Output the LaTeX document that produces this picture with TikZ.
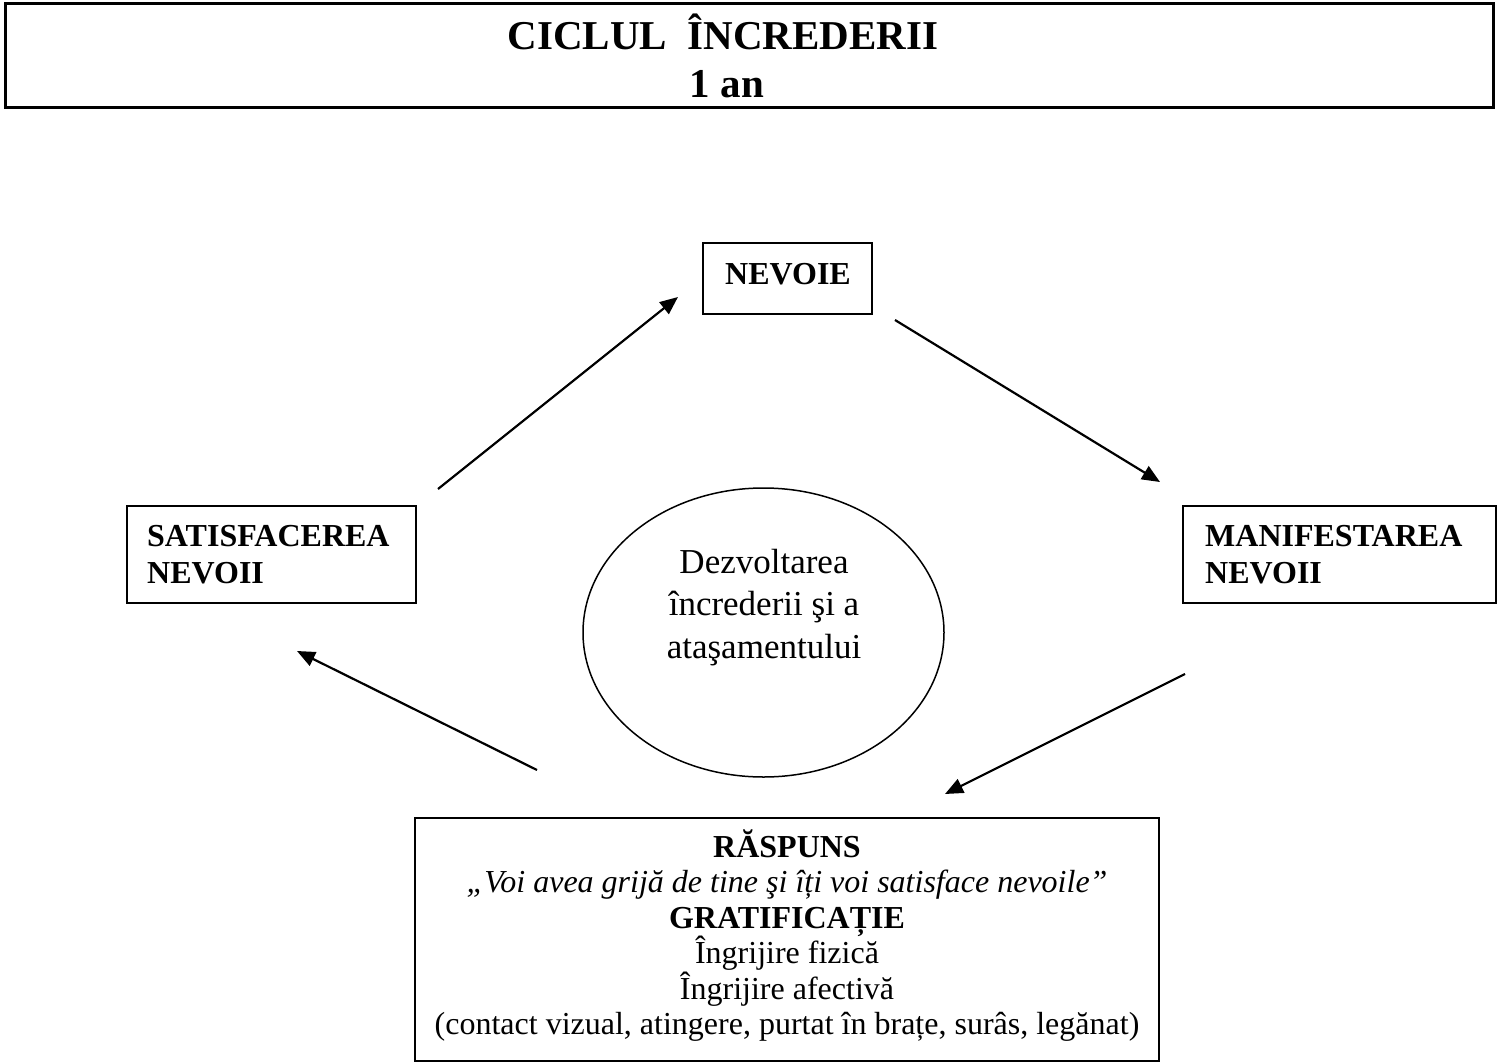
\documentclass[tikz,border=0pt]{standalone}
\usepackage{fontspec}
\setmainfont{Liberation Serif}
\usetikzlibrary{arrows.meta,shapes.geometric}
\newcommand\mytitlefont{\fontsize{41}{48}\selectfont\bfseries}
\newcommand\mybold{\fontsize{32}{37}\selectfont\bfseries}
\newcommand\mybody{\fontsize{32}{37}\selectfont}
\newcommand\myellfont{\fontsize{35}{42}\selectfont}
\begin{document}
\begin{tikzpicture}[x=1pt,y=-1pt,
  boxnode/.style={draw, line width=2pt, inner sep=0pt},
  txt/.style={inner sep=0pt, anchor=base},
  txtl/.style={inner sep=0pt, anchor=base west},
  arr/.style={-{Triangle[length=18pt,width=15pt]}, line width=2.2pt}]
\useasboundingbox (0,0) rectangle (1502,1063);

% title
\node[boxnode, line width=3pt, minimum width=1488pt, minimum height=104pt] (titlebox) at (749,55) {};
\node[txt, font=\mytitlefont] (title1) at (723,49) {CICLUL\ \ ÎNCREDERII};
\node[txt, font=\mytitlefont] (title2) at (727,97) {1 an};

% boxes
\node[boxnode, minimum width=169pt, minimum height=71pt] (nevoiebox) at (787.5,278.5) {};
\node[txtl, font=\mybold] (nevoie) at (725,284) {NEVOIE};

\node[boxnode, minimum width=289pt, minimum height=97pt] (satbox) at (271.5,554.5) {};
\node[txtl, font=\mybold] (sat1) at (147,546) {SATISFACEREA};
\node[txtl, font=\mybold] (sat2) at (147,583) {NEVOII};

\node[boxnode, minimum width=313pt, minimum height=97pt] (manbox) at (1339.5,554.5) {};
\node[txtl, font=\mybold] (man1) at (1205,546) {MANIFESTAREA};
\node[txtl, font=\mybold] (man2) at (1205,583) {NEVOII};

% ellipse
\node[draw, ellipse, line width=1.5pt, inner sep=0pt, minimum width=361pt, minimum height=289pt] (circ) at (763.5,632.5) {};
\node[txt, font=\myellfont] (ell1) at (764,573) {Dezvoltarea};
\node[txt, font=\myellfont] (ell2) at (764,615.5) {încrederii şi a};
\node[txt, font=\myellfont] (ell3) at (764,658) {ataşamentului};

% response box
\node[boxnode, minimum width=744pt, minimum height=243pt] (respbox) at (787,939.5) {};
\node[txt, font=\mybold] (r1) at (787,857) {RĂSPUNS};
\node[txt, font=\mybody\itshape] (r2) at (787,892.5) {„Voi avea grijă de tine şi îți voi satisface nevoile”};
\node[txt, font=\mybold] (r3) at (787,928) {GRATIFICAȚIE};
\node[txt, font=\mybody] (r4) at (787,963.5) {Îngrijire fizică};
\node[txt, font=\mybody] (r5) at (787,999) {Îngrijire afectivă};
\node[txt, font=\mybody] (r6) at (787,1034.5) {(contact vizual, atingere, purtat în brațe, surâs, legănat)};

% arrows
\coordinate (a1s) at (438,489); \coordinate (a1e) at (678,297);
\coordinate (a2s) at (895,320); \coordinate (a2e) at (1160,482);
\coordinate (a3s) at (1185,674); \coordinate (a3e) at (945,794);
\coordinate (a4s) at (537,770); \coordinate (a4e) at (297,651);
\draw[arr] (a1s) -- (a1e);
\draw[arr] (a2s) -- (a2e);
\draw[arr] (a3s) -- (a3e);
\draw[arr] (a4s) -- (a4e);
\end{tikzpicture}
\end{document}
